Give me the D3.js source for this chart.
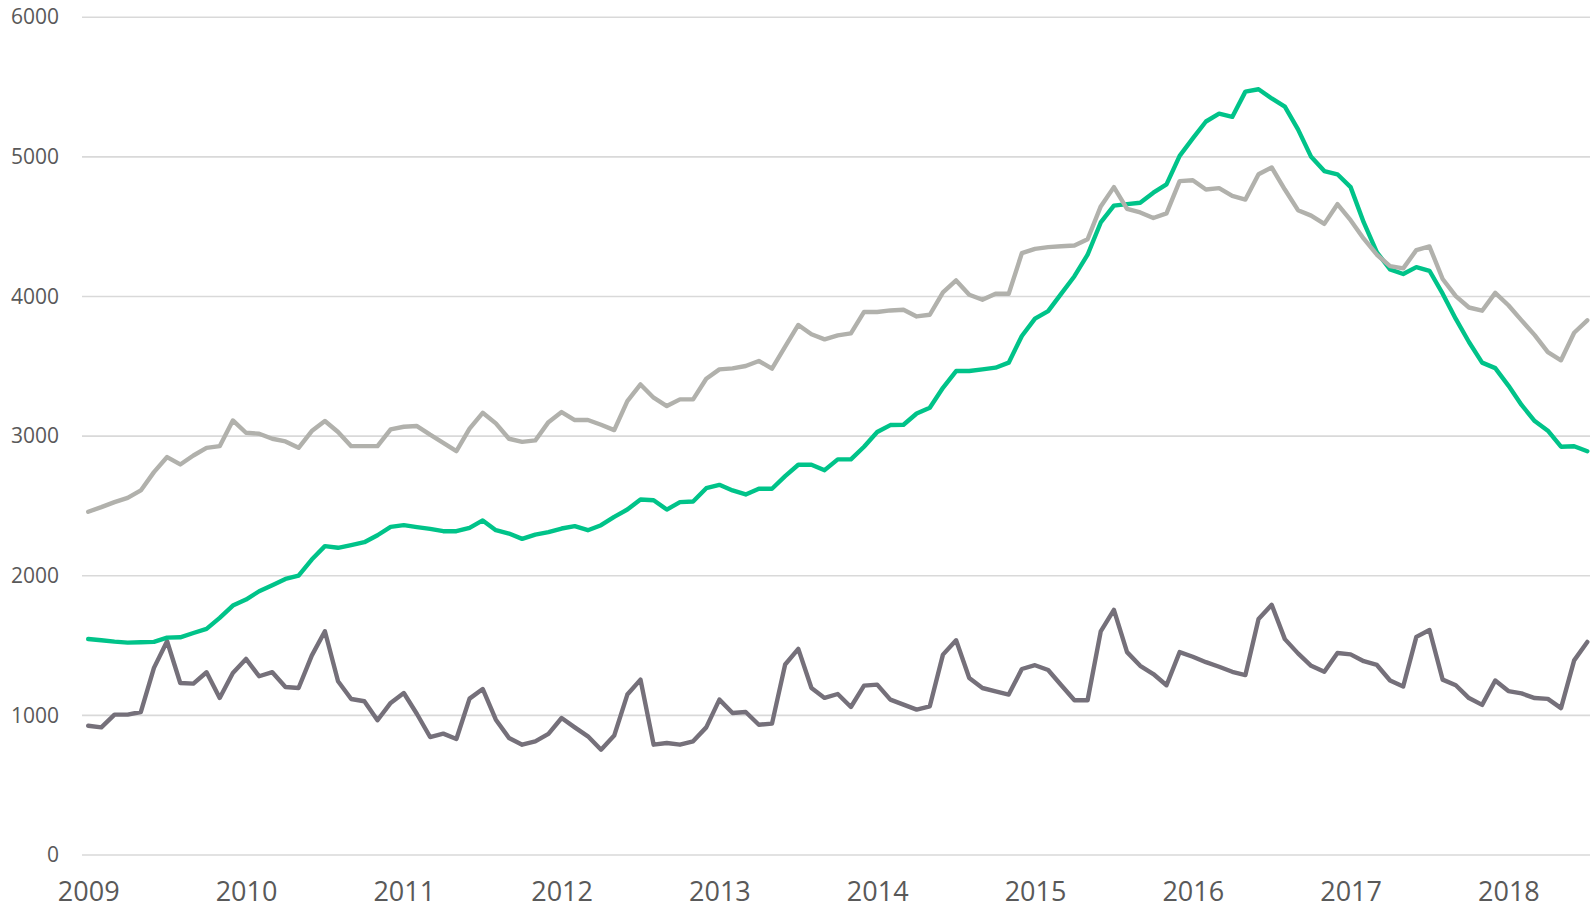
<!DOCTYPE html>
<html>
<head>
<meta charset="utf-8">
<script src="https://d3js.org/d3.v7.min.js"></script>
<style>
  body { margin: 0; background: #fff; }
  svg { display: block; }
</style>
</head>
<body>
<div id="chart"></div>

<script>
    // monthly values, Jan 2009 .. Jul 2018
    var years = [2009, 2010, 2011, 2012, 2013, 2014, 2015, 2016, 2017, 2018];
    var yTicks = [0, 1000, 2000, 3000, 4000, 5000, 6000];

    var lightSeries = [2458, 2491, 2527, 2558, 2611, 2742, 2850, 2797, 2861, 2916, 2928, 3112,
        3024, 3017, 2981, 2962, 2916, 3036, 3108, 3029, 2928, 2928, 2928, 3048,
        3067, 3072, 3010, 2952, 2892, 3053, 3167, 3091, 2981, 2959, 2969, 3100,
        3172, 3115, 3115, 3081, 3043, 3251, 3370, 3275, 3215, 3263, 3263, 3411,
        3478, 3485, 3502, 3538, 3483, 3640, 3796, 3729, 3693, 3721, 3736, 3889,
        3889, 3900, 3905, 3857, 3869, 4029, 4115, 4012, 3976, 4019, 4019, 4310,
        4341, 4353, 4360, 4365, 4410, 4645, 4783, 4628, 4602, 4562, 4595, 4826,
        4832, 4766, 4776, 4720, 4694, 4875, 4924, 4766, 4618, 4579, 4520, 4661,
        4546, 4414, 4299, 4217, 4201, 4332, 4358, 4125, 4003, 3921, 3898, 4026,
        3937, 3829, 3723, 3602, 3543, 3740, 3829];

    var greenSeries = [1547, 1538, 1528, 1521, 1524, 1526, 1557, 1559, 1590, 1619, 1698, 1786,
        1829, 1889, 1932, 1977, 2001, 2116, 2212, 2200, 2219, 2240, 2290, 2350,
        2362, 2348, 2336, 2319, 2319, 2343, 2396, 2326, 2302, 2264, 2295, 2312,
        2338, 2355, 2326, 2362, 2422, 2474, 2546, 2541, 2474, 2527, 2532, 2627,
        2651, 2611, 2582, 2623, 2623, 2713, 2795, 2795, 2756, 2833, 2833, 2924,
        3029, 3079, 3081, 3162, 3203, 3346, 3466, 3466, 3478, 3490, 3526, 3717,
        3841, 3895, 4020, 4145, 4299, 4530, 4651, 4661, 4671, 4743, 4803, 5007,
        5132, 5253, 5309, 5286, 5467, 5484, 5418, 5359, 5197, 5000, 4898, 4875,
        4783, 4530, 4316, 4194, 4161, 4210, 4184, 4020, 3839, 3674, 3526, 3487,
        3362, 3223, 3108, 3039, 2924, 2927, 2891];

    var darkSeries = [926, 914, 1005, 1005, 1024, 1340, 1531, 1232, 1227, 1309, 1125, 1304,
        1404, 1280, 1309, 1203, 1196, 1428, 1602, 1244, 1117, 1101, 965, 1089,
        1160, 1010, 845, 869, 831, 1120, 1189, 969, 838, 790, 814, 867,
        981, 914, 850, 754, 855, 1149, 1256, 790, 802, 790, 814, 914,
        1113, 1017, 1024, 933, 941, 1364, 1476, 1196, 1125, 1153, 1060, 1213,
        1220, 1113, 1077, 1041, 1065, 1435, 1538, 1268, 1196, 1172, 1149, 1332,
        1359, 1325, 1216, 1108, 1108, 1602, 1756, 1453, 1355, 1296, 1216, 1453,
        1420, 1381, 1348, 1312, 1289, 1690, 1792, 1546, 1444, 1355, 1312, 1447,
        1437, 1388, 1361, 1250, 1207, 1562, 1611, 1256, 1216, 1124, 1075, 1250,
        1174, 1157, 1124, 1118, 1052, 1394, 1526];

    var width = 1590, height = 909;

    var svg = d3.select("#chart")
        .append("svg")
        .attr("width", width)
        .attr("height", height);

    var x = d3.scaleLinear()
        .domain([0, 114])
        .range([88.2, 88.2 + 13.15 * 114]);

    var y = d3.scaleLinear()
        .domain([0, 6000])
        .range([855, 17.2]);

    // horizontal gridlines
    svg.append("g")
        .selectAll("line")
        .data(yTicks)
        .join("line")
        .attr("x1", 82)
        .attr("x2", width)
        .attr("y1", d => y(d))
        .attr("y2", d => y(d))
        .style("stroke", "#d9d9d9")
        .style("stroke-width", 1.6);

    // y axis labels
    var yAxis = d3.axisLeft(y)
        .tickValues(yTicks)
        .tickSize(0)
        .tickPadding(0)
        .tickFormat(d3.format("d"));

    svg.append("g")
        .attr("transform", "translate(59,0)")
        .call(yAxis)
        .call(g => g.select(".domain").remove())
        .selectAll("text")
        .style("font-family", "'Open Sans', 'Liberation Sans', sans-serif")
        .style("font-size", "21px")
        .style("fill", "#595959");

    // x axis labels
    var xAxis = d3.axisBottom(x)
        .tickValues(years.map(d => (d - 2009) * 12))
        .tickSize(0)
        .tickPadding(0)
        .tickFormat(d => years[d / 12]);

    svg.append("g")
        .attr("transform", "translate(0,901)")
        .call(xAxis)
        .call(g => g.select(".domain").remove())
        .selectAll("text")
        .attr("dy", "0")
        .style("font-family", "'Open Sans', 'Liberation Sans', sans-serif")
        .style("font-size", "27px")
        .style("fill", "#595959");

    var line = d3.line()
        .x((d, i) => x(i))
        .y(d => y(d));

    // drawing order: dark below, green middle, light gray on top
    var series = [
        { values: darkSeries, color: "#75707a" },
        { values: greenSeries, color: "#00c389" },
        { values: lightSeries, color: "#b1b1ac" }
    ];

    svg.append("g")
        .selectAll("path")
        .data(series)
        .join("path")
        .attr("d", d => line(d.values))
        .style("fill", "none")
        .style("stroke", d => d.color)
        .style("stroke-width", 4.4)
        .style("stroke-linejoin", "round")
        .style("stroke-linecap", "round");
</script>
</body>
</html>
